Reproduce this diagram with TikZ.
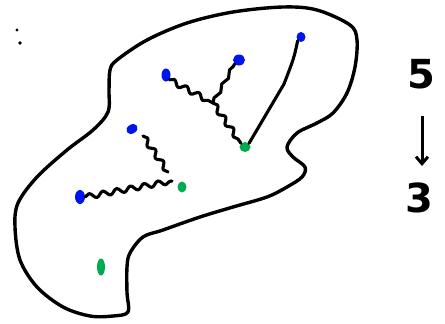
\documentclass[tikz,border=0pt]{standalone}
\usepackage{fontspec}
\setsansfont{DejaVu Sans}
\usetikzlibrary{decorations.pathmorphing,arrows.meta,shapes.geometric}
\definecolor{dotblue}{RGB}{0,20,240}
\definecolor{dotgreen}{RGB}{0,170,80}
\begin{document}
\begin{tikzpicture}[x=1pt,y=-1pt,
  outline/.style={line width=3.4pt,line join=round,line cap=round},
  wig/.style={line width=3.1pt,line cap=round,line join=round,decorate,decoration={snake,segment length=14pt,amplitude=2.6pt}},
  smoothline/.style={line width=3.1pt,line cap=round,line join=round},
  bdot/.style={ellipse,fill=dotblue,minimum width=9pt,minimum height=13pt,inner sep=0pt},
  gdot/.style={ellipse,fill=dotgreen,minimum width=11pt,minimum height=10pt,inner sep=0pt},
  digit/.style={font=\sffamily\bfseries\fontsize{40}{40}\selectfont,inner sep=0pt}]
\useasboundingbox (0,0) rectangle (445,324);
% outline
\draw[outline] plot[smooth cycle,tension=0.55] coordinates {
 (117,60) (147,40) (187,23) (233,12) (283,7) (317,10) (350,25) (357,40)
 (355,67) (347,93) (333,113) (317,123) (297,133) (287,147) (293,157)
 (305,167) (302,177) (287,187) (267,197) (233,207) (200,217) (163,230)
 (143,237) (130,253) (127,267) (127,293) (128,312) (113,316) (90,316)
 (63,307) (37,287) (20,260) (15,227) (18,203) (37,177) (67,150) (93,130)
 (108,112) (109,90) (110,70)};
% dots
\node[bdot] (b1) at (166,75) {};
\node[bdot,minimum width=12pt,minimum height=11pt] (b2) at (239,60) {};
\node[bdot,minimum width=9pt,minimum height=10pt] (b3) at (301,37) {};
\node[bdot,rotate=-60,minimum height=12pt] (b4) at (132,129) {};
\node[bdot,minimum width=10pt,minimum height=14pt] (b5) at (80,197) {};
\node[gdot,minimum width=11pt,minimum height=10pt] (g1) at (245,147) {};
\node[gdot,minimum width=9pt,minimum height=11pt] (g2) at (182,187) {};
\node[gdot,minimum width=8pt,minimum height=17pt] (g3) at (101,267) {};
% tree 1
\coordinate (j1) at (213,103);
\coordinate (k1) at (284,84);
\draw[wig] (b1.south east) -- (j1);
\draw[wig] (j1) -- (g1.north west);
\draw[wig,decoration={snake,segment length=16pt,amplitude=1.6pt}] (j1) -- (b2.south west);
\draw[smoothline] (b3.south west) .. controls (294,58) .. (k1) -- (g1.north east);
% tree 2
\coordinate (e1) at (172,181);
\coordinate (s2) at (143,136);
\coordinate (e2) at (168,172);
\draw[wig] (b5.east) -- (e1);
\draw[wig] (s2) -- (e2);
% colon
\fill (17,30) circle (1.6pt);
\fill (20,43) circle (1.8pt);
% 5 -> 3
\node[digit] (five) at (421,74) {5};
\node[digit] (three) at (419,198) {3};
\draw[line width=3pt,-{Straight Barb[length=7pt,width=12pt,line width=3pt]}] (422,116) -- (422,166);
\end{tikzpicture}
\end{document}
